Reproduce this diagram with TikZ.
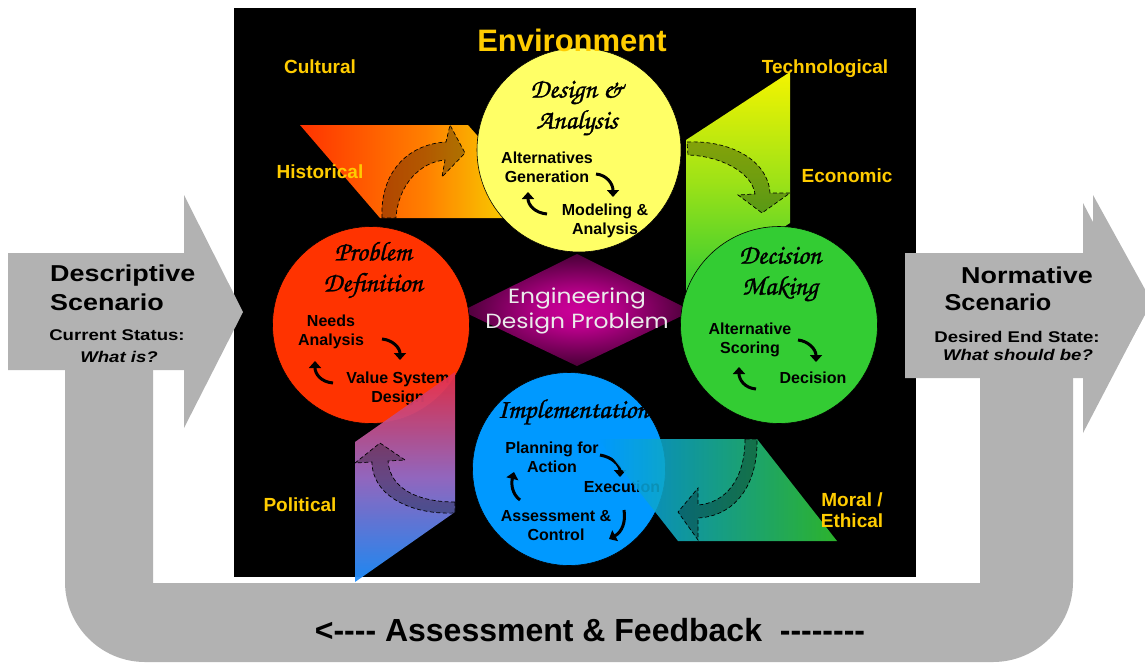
\documentclass[tikz,border=0pt]{standalone}
\usepackage{fontspec}
\setmainfont{Liberation Sans}
\newfontfamily\chorus{TeX Gyre Chorus}[AutoFakeBold=1.3]
\newfontfamily\geo{Poppins}
\usetikzlibrary{arrows.meta}
\definecolor{envy}{HTML}{FFCC00}
\definecolor{grayc}{HTML}{B2B2B2}
\definecolor{yelc}{HTML}{FFFF66}
\definecolor{yelf}{HTML}{F4F400}
\definecolor{redc}{HTML}{FF3300}
\definecolor{greenc}{HTML}{33CC33}
\definecolor{bluec}{HTML}{0099FF}
\definecolor{magc}{HTML}{CC0099}
\definecolor{pinkc}{HTML}{E8304A}
\definecolor{purpc}{HTML}{9A6CC8}
\definecolor{blued}{HTML}{1E90FF}
\pgfdeclareradialshading{glow}{\pgfpoint{0bp}{0bp}}{color(0bp)=(magc); color(8bp)=(magc!90!black); color(22bp)=(magc!45!black); color(36bp)=(magc!8!black); color(50bp)=(black)}
\newcommand\dsh{-\kern0pt}
\begin{document}
\begin{tikzpicture}[x=1pt,y=-1pt,
  envlab/.style={text=envy, font=\bfseries\fontsize{19}{21}\selectfont, inner sep=0pt, align=center},
  ctx/.style={font=\bfseries\fontsize{16}{19}\selectfont, align=center, inner sep=0pt},
  ttl/.style={font=\chorus\bfseries\fontsize{27}{31}\selectfont, align=center, inner sep=0pt},
  scen/.style={font=\bfseries\fontsize{23}{25}\selectfont, inner sep=0pt},
  stat/.style={font=\bfseries\fontsize{15.5}{18}\selectfont, inner sep=0pt},
  cyc/.style={line width=3pt, -{Triangle[length=7pt,width=12pt]}},
  turn/.style={draw=black, dash pattern=on 4pt off 2.5pt, line width=0.7pt, fill=black, fill opacity=0.3},
  disc/.style={circle, draw=black, line width=0.6pt, inner sep=0pt}]
\useasboundingbox (0,0) rectangle (1145,662);
% black panel
\fill[black] (234,8) rectangle (916,577);
% gray feedback loop
\fill[grayc] (153,360) -- (65,360) -- (65,582) .. controls (65,626) and (101,662) .. (145,662) -- (993,662) .. controls (1037,662) and (1073,626) .. (1073,582) -- (1073,370) -- (980,370) -- (980,583) -- (153,583) -- cycle;
% left arrow
\fill[grayc] (8,253) -- (184,253) -- (184,195) -- (243,312) -- (184,428) -- (184,370) -- (8,370) -- cycle;
% right arrow
\fill[grayc] (905,253) -- (1083,253) -- (1083,203) -- (1143,318) -- (1083,433) -- (1083,378) -- (905,378) -- cycle;
\fill[grayc] (1093,195) -- (1152,302) -- (1093,410) -- cycle;
% central glow
\path[shading=glow] (462,311) -- (577,254) -- (692,311) -- (577,366) -- cycle;
\node[font=\geo\fontsize{20.5}{25}\selectfont, text=white!92!black, align=center, inner sep=0pt] (edp) at (577,311) {\scalebox{1.14}[1]{Engineering}\\\scalebox{1.14}[1]{Design Problem}};
% flaps under circles
\shade[left color=redc, right color=yelf, middle color=orange] (300,125) -- (468,125) -- (550,218) -- (380,218) -- cycle;
\path[turn] (382,218) .. controls (380,170) and (410,144) .. (446,142) -- (450,125) -- (465,153) -- (442,177) -- (445,160) .. controls (420,162) and (398,185) .. (396,218) -- cycle;
\shade[top color=yelf, bottom color=greenc, middle color=yelf!55!greenc] (686,140) -- (790,72) -- (790,223) -- (686,291) -- cycle;
\path[turn] (687,142) .. controls (730,140) and (768,160) .. (770,193) -- (790,193) -- (762,213) -- (738,195) -- (755,194) .. controls (752,172) and (720,156) .. (688,155) -- cycle;
% circles
\node[disc, fill=yelc, minimum size=204pt] (da) at (579,150) {};
\node[disc, fill=redc, minimum size=197pt] (pd) at (371,325) {};
\node[disc, fill=greenc, minimum size=197pt] (dm) at (779,325) {};
\node[disc, fill=bluec, minimum size=193pt] (im) at (569,469) {};
% design & analysis
\node[ttl] (dat) at (577,108) {Design \&\\Analysis};
\node[ctx] (altgen) at (547,167) {Alternatives\\Generation};
\node[ctx] (model) at (605,221) {Modeling \&\\Analysis};
\coordinate (a1s) at (596,174); \coordinate (a1e) at (613,197);
\coordinate (a2s) at (547,214); \coordinate (a2e) at (528,192);
\draw[cyc] (a1s) .. controls (607,175) and (613,184) .. (a1e);
\draw[cyc] (a2s) .. controls (535,213) and (528,205) .. (a2e);
% problem definition
\node[ttl] (pdt) at (373,270) {Problem\\Definition};
\node[ctx] (needs) at (331,332) {Needs\\Analysis};
\node[ctx] (vsd) at (398,389) {Value System\\Design};
\coordinate (b1s) at (382,339); \coordinate (b1e) at (400,360);
\coordinate (b2s) at (333,383); \coordinate (b2e) at (315,361);
\draw[cyc] (b1s) .. controls (393,340) and (400,348) .. (b1e);
\draw[cyc] (b2s) .. controls (321,382) and (315,374) .. (b2e);
% decision making
\node[ttl] (dmt) at (780,274) {Decision\\Making};
\node[ctx] (altsc) at (750,340) {Alternative\\Scoring};
\node[ctx] (dec) at (813,378) {Decision};
\coordinate (c1s) at (798,340); \coordinate (c1e) at (816,362);
\coordinate (c2s) at (756,389); \coordinate (c2e) at (739,367);
\draw[cyc] (c1s) .. controls (808,341) and (816,349) .. (c1e);
\draw[cyc] (c2s) .. controls (744,388) and (739,379) .. (c2e);
% implementation
\node[ttl] (imt) at (573,412) {Implementation};
\node[ctx] (plan) at (552,457) {Planning for\\Action};
\node[ctx] (exec) at (622,487) {Execution};
\node[ctx] (assess) at (556,526) {Assessment \&\\Control};
\coordinate (d1s) at (600,455); \coordinate (d1e) at (620,477);
\coordinate (d2s) at (520,500); \coordinate (d2e) at (514,472);
\coordinate (d3s) at (624,510); \coordinate (d3e) at (609,539);
\draw[cyc] (d1s) .. controls (612,457) and (620,465) .. (d1e);
\draw[cyc] (d2s) .. controls (512,494) and (511,484) .. (d2e);
\draw[cyc] (d3s) .. controls (626,522) and (622,532) .. (d3e);
% flaps over circles
\shade[left color=bluec, right color=greenc, opacity=0.88] (598,439) -- (757,439) -- (837,541) -- (678,541) -- cycle;
\path[turn] (745,439) .. controls (745,480) and (725,503) .. (698,505) -- (698,488) -- (678,512) -- (698,540) -- (698,518) .. controls (735,516) and (758,485) .. (757,439) -- cycle;
\shade[top color=pinkc, bottom color=blued, middle color=purpc, opacity=0.95] (355,442) -- (455,372) -- (455,512) -- (355,582) -- cycle;
\path[turn] (455,502) .. controls (420,502) and (390,490) .. (388,461) -- (405,460) -- (380,443) -- (355,463) -- (372,462) .. controls (372,495) and (410,515) .. (455,513) -- cycle;
% environment labels
\node[text=envy, font=\bfseries\fontsize{31}{33}\selectfont, inner sep=0pt] (env) at (572,40) {Environment};
\node[envlab] (cult) at (320,67) {Cultural};
\node[envlab] (tech) at (825,69) {Technological};
\node[envlab] (hist) at (320,172) {Historical};
\node[envlab] (econ) at (847,176) {Economic};
\node[envlab] (pol) at (300,505) {Political};
\node[envlab] (moral) at (852,510) {Moral /\\Ethical};
% scenario texts
\node[scen, anchor=west] (desc1) at (50,276) {\scalebox{1.17}[1]{Descriptive}};
\node[scen, anchor=west] (desc2) at (50,302) {\scalebox{1.17}[1]{Scenario}};
\node[stat] (cur1) at (117,335) {\scalebox{1.2}[1]{Current Status:}};
\node[stat] (cur2) at (119,357) {\scalebox{1.2}[1]{\itshape What is?}};
\node[scen] (norm1) at (1027,275) {\scalebox{1.17}[1]{Normative}};
\node[scen] (norm2) at (998,302) {\scalebox{1.1}[1]{Scenario}};
\node[stat] (des1) at (1017,337) {\scalebox{1.2}[1]{Desired End State:}};
\node[stat] (des2) at (1018,355) {\scalebox{1.2}[1]{\itshape What should be?}};
% feedback text
\node[font=\bfseries\fontsize{32}{34}\selectfont, inner sep=0pt] (fb) at (590,630) {<\dsh\dsh\dsh\dsh\ Assessment \& Feedback\ \ \dsh\dsh\dsh\dsh\dsh\dsh\dsh\dsh};
\end{tikzpicture}
\end{document}
